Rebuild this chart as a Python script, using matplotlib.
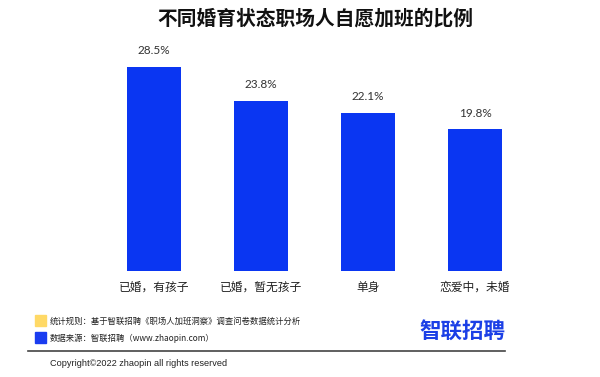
import matplotlib
matplotlib.use("Agg")
import matplotlib.pyplot as plt
from matplotlib.patches import Rectangle
from matplotlib.lines import Line2D

plt.rcParams['font.family'] = ['Noto Sans CJK SC', 'DejaVu Sans']

categories = ["已婚，有孩子", "已婚，暂无孩子", "单身", "恋爱中，未婚"]
values = [28.5, 23.8, 22.1, 19.8]
value_labels = ["28.5%", "23.8%", "22.1%", "19.8%"]
title = "不同婚育状态职场人自愿加班的比例"
legend_texts = ["统计规则：基于智联招聘《职场人加班洞察》调查问卷数据统计分析",
                "数据来源：智联招聘（www.zhaopin.com）"]
copyright_text = "Copyright©2022 zhaopin all rights reserved"
logo_text = "智联招聘"

W, H = 600, 377
fig = plt.figure(figsize=(6, 3.77), dpi=100)
fig.patch.set_facecolor("white")

# axes: x from 100.5 to 528.5 px, y from 271 (bottom) to 40 (top)
ax = fig.add_axes([100.5 / W, (H - 271) / H, 428 / W, 231 / H])
x = list(range(len(categories)))
bar_color = "#0a36f2"
ax.bar(x, values, width=0.505, color=bar_color)
ax.set_xlim(-0.5, 3.5)
ax.set_ylim(0, 231 / 7.16)
ax.axis("off")
for xi, v, lab in zip(x, values, value_labels):
    ax.annotate(lab, (xi, v), xytext=(0, 11.5), textcoords="offset points",
                ha="center", va="center", fontsize=8.5, color="#333333",
                family=["Lato", "DejaVu Sans"])
for xi, c in zip(x, categories):
    ax.annotate(c, (xi, 0), xytext=(0, -11.5), textcoords="offset points",
                ha="center", va="center", fontsize=8.5, color="#222222")

fig.text(315 / W, 1 - 19 / H, title, ha="center", va="center",
         fontsize=14.2, fontweight="bold", color="#111111")

# legend squares
fig.patches.append(Rectangle((35 / W, 1 - 326 / H), 11 / W, 11 / H,
                             transform=fig.transFigure, color="#ffd966"))
fig.patches.append(Rectangle((35 / W, 1 - 343 / H), 11 / W, 11 / H,
                             transform=fig.transFigure, color="#1a3cf0"))
fig.text(50 / W, 1 - 321 / H, legend_texts[0], ha="left", va="center",
         fontsize=6.0, color="#222222")
fig.text(50 / W, 1 - 338 / H, legend_texts[1], ha="left", va="center",
         fontsize=6.0, color="#222222")

# logo
fig.text(505 / W, 1 - 331 / H, logo_text, ha="right", va="center",
         fontsize=15.5, fontweight="bold", color="#1b3fe6")

# separator line
fig.add_artist(Line2D([28 / W, 505 / W], [1 - 351 / H, 1 - 351 / H],
                      transform=fig.transFigure, color="#444444", lw=1.2))

fig.text(50 / W, 1 - 364 / H, copyright_text, ha="left", va="center",
         fontsize=6.6, color="#222222", family=["Liberation Sans", "DejaVu Sans"])

fig.savefig("out.png", dpi=100, facecolor="white")
